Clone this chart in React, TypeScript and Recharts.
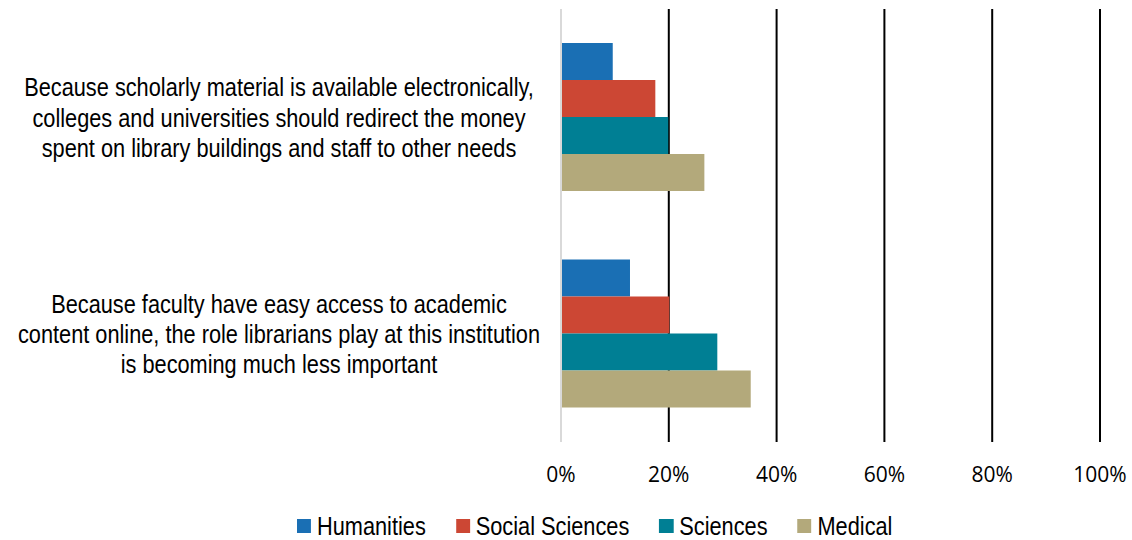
import React from "react";
import {
  BarChart,
  Bar,
  XAxis,
  YAxis,
  CartesianGrid,
  ReferenceLine,
  Legend,
} from "recharts";

const categories: string[][] = [
  [
    "Because scholarly material is available electronically,",
    "colleges and universities should redirect the money",
    "spent on library buildings and staff to other needs",
  ],
  [
    "Because faculty have easy access to academic",
    "content online, the role librarians play at this institution",
    "is becoming much less important",
  ],
];

const humanities = [9.6, 12.8];
const socialSciences = [17.5, 20.1];
const sciences = [19.9, 29.0];
const medical = [26.6, 35.2];

const xTicks = [0, 20, 40, 60, 80, 100];

const seriesNames = ["Humanities", "Social Sciences", "Sciences", "Medical"];
const seriesKeys = ["humanities", "social", "sciences", "medical"];
const colors = ["#1a6fb4", "#cc4734", "#007f94", "#b3a97b"];

const data = categories.map((lines, i) => ({
  name: lines.join("\n"),
  humanities: humanities[i],
  social: socialSciences[i],
  sciences: sciences[i],
  medical: medical[i],
}));

const LABEL_FONT = "'Liberation Sans', Arial, sans-serif";
const SQUEEZE = 0.87;

const YTick = (props: any) => {
  const { y, payload } = props;
  const lines = String(payload.value).split("\n");
  return (
    <g transform={`translate(279, ${y - 21}) scale(${SQUEEZE}, 1)`}>
      <text
        x={0}
        y={0}
        textAnchor="middle"
        fontFamily={LABEL_FONT}
        fontSize={25}
        fill="#000"
      >
        {lines.map((l, i) => (
          <tspan key={i} x={0} dy={i === 0 ? 0 : 30.3}>
            {l}
          </tspan>
        ))}
      </text>
    </g>
  );
};

const XTick = (props: any) => {
  const { x, y, payload } = props;
  return (
    <text
      x={x}
      y={y + 40}
      textAnchor="middle"
      fontFamily="'Open Sans', 'Noto Sans', sans-serif"
      fontSize={21}
      fill="#000"
    >
      {payload.value}%
    </text>
  );
};

const LegendContent = () => (
  <div style={{ paddingLeft: 297, height: 28 }}>
    <div
      style={{
        display: "flex",
        alignItems: "center",
        height: 28,
        transform: `scaleX(${SQUEEZE})`,
        transformOrigin: "left center",
        fontFamily: LABEL_FONT,
        fontSize: 25,
        color: "#000",
        whiteSpace: "nowrap",
      }}
    >
      {seriesNames.map((n, i) => (
        <div
          key={n}
          style={{
            display: "flex",
            alignItems: "center",
            marginRight: 30 / SQUEEZE,
          }}
        >
          <div
            style={{
              width: 14 / SQUEEZE,
              height: 14,
              background: colors[i],
              marginRight: 6 / SQUEEZE,
            }}
          />
          <span>{n}</span>
        </div>
      ))}
    </div>
  </div>
);

export default function App() {
  return (
    <div style={{ position: "absolute", left: 0, top: 0, background: "#fff" }}>
      <BarChart
        width={1132}
        height={540}
        data={data}
        layout="vertical"
        margin={{ top: 9, right: 32, bottom: 0, left: 0 }}
        barGap={0}
      >
        <CartesianGrid
          horizontal={false}
          vertical={true}
          stroke="#000"
          strokeWidth={2}
        />
        <XAxis
          type="number"
          domain={[0, 100]}
          ticks={xTicks}
          axisLine={false}
          tickLine={false}
          tickSize={0}
          tickMargin={0}
          height={70}
          tick={<XTick />}
          interval={0}
        />
        <YAxis
          type="category"
          dataKey="name"
          width={561}
          axisLine={false}
          tickLine={false}
          tick={<YTick />}
          interval={0}
        />
        <ReferenceLine x={0} stroke="#d9d9d9" strokeWidth={2} />
        {seriesKeys.map((k, i) => (
          <Bar
            key={k}
            dataKey={k}
            name={seriesNames[i]}
            fill={colors[i]}
            barSize={37}
            isAnimationActive={false}
          />
        ))}
        <Legend verticalAlign="bottom" content={<LegendContent />} />
      </BarChart>
    </div>
  );
}
